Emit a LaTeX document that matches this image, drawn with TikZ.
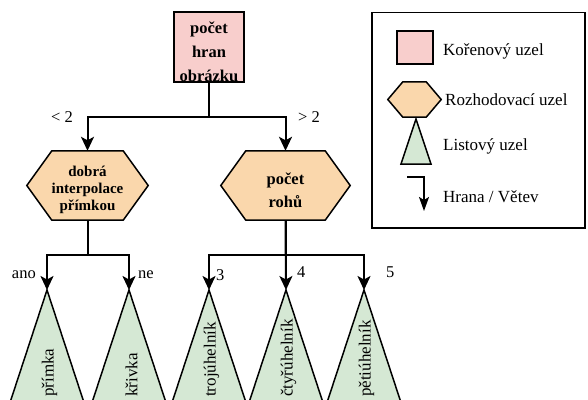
\documentclass[tikz,border=0pt]{standalone}
\usepackage{fontspec}
\setmainfont{Liberation Serif}
\usetikzlibrary{arrows.meta,calc,backgrounds}
\definecolor{rootfill}{HTML}{F8CECC}
\definecolor{decfill}{HTML}{FAD7AC}
\definecolor{leaffill}{HTML}{D5E8D4}

\begin{document}
\begin{tikzpicture}[x=1bp,y=-1bp,
  edge/.style={line width=2bp,-{Stealth[length=14bp,width=13bp,inset=3.5bp]}},
  legedge/.style={line width=1.6bp,-{Stealth[length=14bp,width=10bp,inset=3bp]}},
  rootbox/.style={draw,line width=1.5bp,fill=rootfill,minimum width=70bp,minimum height=70bp,inner sep=0},
  decbox/.style={inner sep=0,minimum height=69bp},
  boldtext/.style={inner sep=0,align=center,font=\fontsize{#1}{#1*1.4}\selectfont\bfseries},
  decborder/.style={draw,line width=1.5bp,fill=decfill,line join=miter},
  leafborder/.style={draw,line width=1.5bp,fill=leaffill,line join=miter},
  leaftext/.style={rotate=90,anchor=west,inner sep=0,font=\fontsize{17bp}{20bp}\selectfont},
  lbl/.style={inner sep=0,font=\fontsize{16.5bp}{20bp}\selectfont},
  legtext/.style={inner sep=0,anchor=base west,font=\fontsize{17bp}{20bp}\selectfont},
]
\useasboundingbox (0,0) rectangle (588,399);

% ---------- tree nodes ----------
\node[rootbox] (root) at (209,47) {};
\node[inner sep=0,align=center,font=\fontsize{16.5bp}{24bp}\selectfont\bfseries] (rootT) at (209,51.5)
  {počet\\hran\\obrázku};

\node[decbox,minimum width=121bp] (hexL) at (87.5,185.5) {};
\node[inner sep=0,align=center,font=\fontsize{15bp}{17bp}\selectfont\bfseries] (hexLT) at (87.5,190)
  {dobrá\\interpolace\\přímkou};
\node[decbox,minimum width=129bp] (hexR) at (285.5,185.5) {};
\node[inner sep=0,align=center,font=\fontsize{16.5bp}{23bp}\selectfont\bfseries] (hexRT) at (285.5,190.5)
  {počet\\rohů};

\begin{pgfonlayer}{background}
  \foreach \h/\s in {hexL/25,hexR/25}{
    \draw[decborder] (\h.west) -- ($(\h.north west)+(\s,0)$) -- ($(\h.north east)+(-\s,0)$)
      -- (\h.east) -- ($(\h.south east)+(-\s,0)$) -- ($(\h.south west)+(\s,0)$) -- cycle;
  }
\end{pgfonlayer}

% leaves: triangles hanging from their apex
\foreach \n/\x/\t in {lfA/47/přímka,lfB/129/křivka,lfC/209/trojúhelník,lfD/286/čtyřúhelník,lfE/364/pětiúhelník}{
  \coordinate (\n) at (\x,290);
  \draw[leafborder] (\n) -- ++(-46,140) -- ++(92,0) -- cycle;
  \node[leaftext] (\n-t) at (\x+2.5,397) {\t};
}

% ---------- connectors ----------
\draw[edge] (root.south) -- ++(0,34) -| (hexL.north);
\draw[edge] (root.south) -- ++(0,34) -| (hexR.north);
\draw[edge] (hexL.south) -- ++(0,35) -| (lfA);
\draw[edge] (hexL.south) -- ++(0,35) -| (lfB);
\draw[edge] (hexR.south) -- ++(0,35) -| (lfC);
\draw[edge] (hexR.south) -- (lfD);
\draw[edge] (hexR.south) -- ++(0,35) -| (lfE);

% connector labels
\node[lbl,anchor=east] (lLess) at (73,117) {< 2};
\node[lbl,anchor=west] (lMore) at (298,117) {> 2};
\node[lbl,anchor=east] (lYes) at (36,275) {ano};
\node[lbl,anchor=west] (lNo) at (138,275) {ne};
\node[lbl,anchor=west] (l3) at (216,275) {3};
\node[lbl,anchor=west] (l4) at (297,272) {4};
\node[lbl,anchor=west] (l5) at (386,272) {5};

% ---------- legend ----------
\node[draw,line width=1.5bp,minimum width=213bp,minimum height=215.5bp,inner sep=0] (legend) at (478.5,120.25) {};
\node[draw,line width=1.5bp,fill=rootfill,minimum width=36bp,minimum height=33bp,inner sep=0] (lgRoot) at (415,47.5) {};
\node[legtext] (lgRootT) at (443,55) {Kořenový uzel};

\node[decbox,minimum width=53bp,minimum height=35bp] (lgDec) at (414.5,99.5) {};
\begin{pgfonlayer}{background}
  \draw[decborder] (lgDec.west) -- ($(lgDec.north west)+(15,0)$) -- ($(lgDec.north east)+(-15,0)$)
    -- (lgDec.east) -- ($(lgDec.south east)+(-15,0)$) -- ($(lgDec.south west)+(15,0)$) -- cycle;
\end{pgfonlayer}
\node[legtext] (lgDecT) at (445,105) {Rozhodovací uzel};

\coordinate (lgLeaf) at (416,119);
\draw[leafborder] (lgLeaf) -- ++(-15,45) -- ++(30,0) -- cycle;
\node[legtext] (lgLeafT) at (443,150) {Listový uzel};

\coordinate (lgA) at (407,177);
\coordinate (lgB) at (424,211);
\draw[legedge] (lgA) -| (lgB);
\node[legtext] (lgEdgeT) at (443,202) {Hrana / Větev};
\end{tikzpicture}
\end{document}
